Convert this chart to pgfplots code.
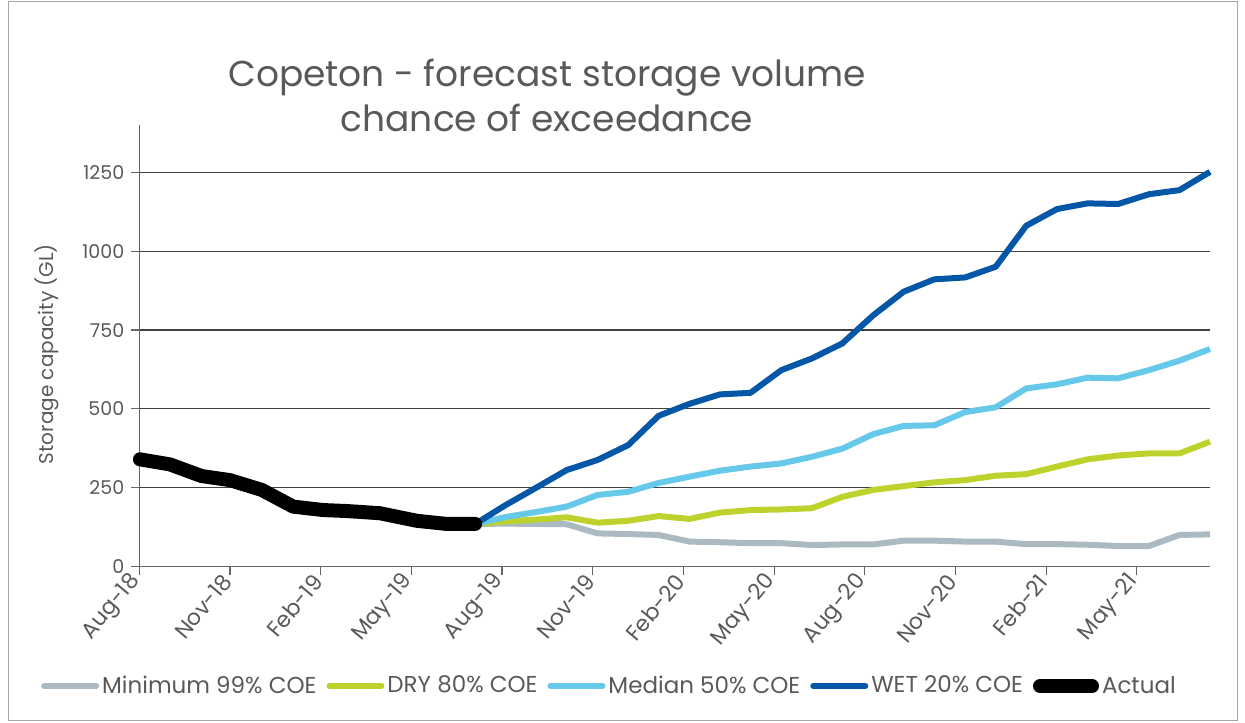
\documentclass[border=0pt]{standalone}
\usepackage{fontspec}
\setmainfont{Poppins}
\usepackage{pgfplots}
\usepackage{pgfplotstable}
\pgfplotsset{compat=1.18}
\definecolor{cmin}{HTML}{ABB9C2}
\definecolor{cdry}{HTML}{BED22E}
\definecolor{cmed}{HTML}{66C9E9}
\definecolor{cwet}{HTML}{0456A6}
\definecolor{txt}{HTML}{595959}

\pgfplotstableread{
x y
0.02 340
1.01 324
2.06 287
3.00 274
4.05 243
5.09 190
6.09 179
6.86 176
7.96 169
9.18 145
10.17 135
11.11 135
}\actual

\pgfplotstableread{
x mn dry med wet
11.11 135 135 135 135
12.12 136 143 157 195
13.13 135 149 173 250
14.14 134 156 190 306
15.16 105 139 227 338
16.17 103 145 237 385
17.18 100 160 265 478
18.20 79 151 285 516
19.21 77 171 304 546
20.22 74 179 317 551
21.24 74 181 327 623
22.25 68 185 348 660
23.26 70 221 374 708
24.28 70 243 420 797
25.29 82 255 446 872
26.30 82 267 448 911
27.32 79 274 490 917
28.33 79 288 505 951
29.34 71 293 565 1081
30.36 71 317 578 1134
31.37 69 340 599 1152
32.38 65 352 597 1150
33.40 65 359 623 1181
34.41 100 359 653 1194
35.42 102 396 690 1252
}\forecast

\begin{document}
\begin{tikzpicture}
\path[use as bounding box] (0pt,0pt) rectangle (622.5pt,361pt);
\draw[black!35, line width=0.5pt] (4pt,1pt) rectangle (618.5pt,360pt);
\begin{axis}[
  at={(69.65pt,77.75pt)}, anchor=south west,
  scale only axis, width=535.35pt, height=220.65pt,
  xmin=0, xmax=35.42, ymin=0, ymax=1400,
  clip=false,
  axis lines*=left,
  axis line style={black!60, line width=0.75pt},
  tick style={black!60, line width=0.6pt},
  tick align=outside, major tick length=4pt,
  xtick={0,3,...,33},
  xticklabels={Aug-18,Nov-18,Feb-19,May-19,Aug-19,Nov-19,Feb-20,May-20,Aug-20,Nov-20,Feb-21,May-21},
  ytick={0,250,...,1250},
  ymajorgrids, grid style={black!75, line width=0.6pt},
  /pgf/number format/assume math mode=true,
  /pgf/number format/1000 sep={},
  x tick label style={rotate=50, anchor=east, font=\fontsize{11}{12}\selectfont, text=txt, inner sep=2pt},
  y tick label style={font=\fontsize{9.5}{12}\selectfont, text=txt},
  ylabel={Storage capacity (GL)},
  every axis y label/.style={at={(axis description cs:-0.0862,0.4815)}, rotate=90, anchor=center, font=\fontsize{10}{12}\selectfont, text=txt},
  legend columns=5,
  legend style={draw=none, fill=none, at={(axis description cs:0.4396,-0.2708)}, anchor=center,
    font=\fontsize{11.5}{14}\selectfont, text=txt,
    nodes={inner xsep=1.5pt},
    /tikz/every even column/.append style={column sep=3.5pt},
    /tikz/every odd column/.append style={column sep=0pt}},
  legend image code/.code={\draw[#1, line cap=round] (0pt,0pt) -- (26pt,0pt);},
  every axis plot/.append style={line join=round},
]
\addplot[cmin, line width=3pt] table[x=x, y=mn] {\forecast};
\addlegendentry{Minimum 99\% COE}
\addplot[cdry, line width=3pt] table[x=x, y=dry] {\forecast};
\addlegendentry{DRY 80\% COE}
\addplot[cmed, line width=3pt] table[x=x, y=med] {\forecast};
\addlegendentry{Median 50\% COE}
\addplot[cwet, line width=3pt] table[x=x, y=wet] {\forecast};
\addlegendentry{WET 20\% COE}
\addplot[black, line width=7pt, line cap=round] table[x=x, y=y] {\actual};
\addlegendentry{Actual}
\end{axis}
\node[align=center, text=txt, font=\fontsize{18}{22.5}\selectfont] at (273.5pt,313.5pt) {Copeton - forecast storage volume\\chance of exceedance};
\end{tikzpicture}
\end{document}
